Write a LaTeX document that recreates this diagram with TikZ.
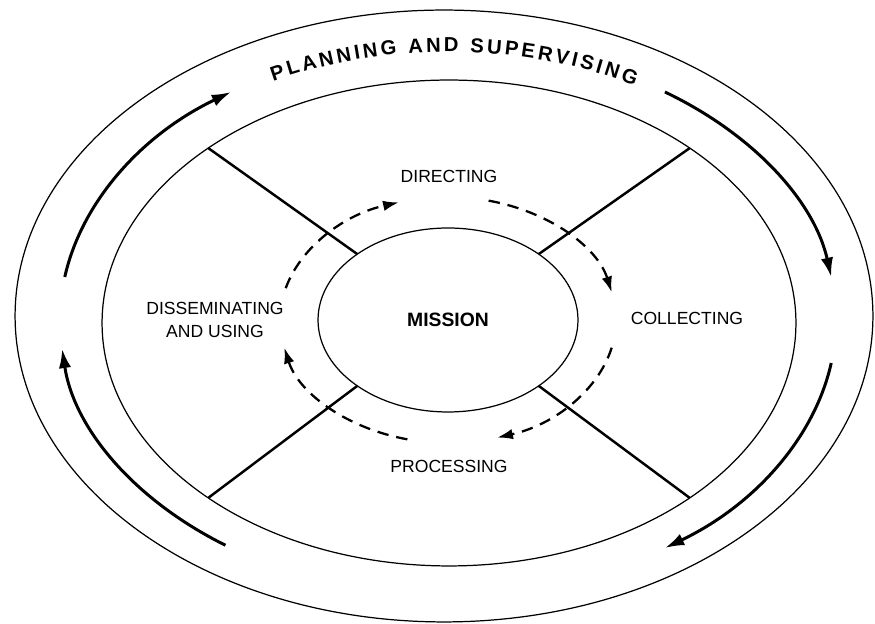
\documentclass[tikz,border=0pt]{standalone}
\usepackage{fontspec}
\setmainfont{Liberation Sans}
\usetikzlibrary{shapes.geometric,arrows.meta,decorations.text}

\tikzset{
  oval/.style={draw, ellipse, line width=0.7pt, inner sep=0pt, outer sep=0pt},
  spoke/.style={line width=1.4pt},
  outerflow/.style={line width=1.7pt, -{Latex[length=11pt,width=7pt]}},
  innerflow/.style={line width=1.3pt, dash pattern=on 6.5pt off 4.5pt, -{Latex[length=9pt,width=6pt]}},
  phase/.style={font=\fontsize{10}{13.5}\selectfont, align=center}
}

\begin{document}
\begin{tikzpicture}[x=0.02cm, y=0.02cm]
	\useasboundingbox (0,0) rectangle (875,624);
	
	\node[oval, minimum width=17.16cm, minimum height=12.24cm] (outer) at (444,308) {};
	\node[oval, minimum width=13.88cm, minimum height=9.72cm] (inner) at (449,301) {};
	\node[oval, minimum width=5.2cm, minimum height=3.68cm, font=\bfseries\fontsize{11}{13}\selectfont] (mission) at (448,304) {MISSION};
	
	% spokes
	\draw[spoke] (mission.144) -- (inner.144);
	\draw[spoke] (mission.36) -- (inner.36);
	\draw[spoke] (mission.216) -- (inner.216);
	\draw[spoke] (mission.-36) -- (inner.-36);
	
	% planning and supervising cycle
	\draw[outerflow] ([shift={(171:388 and 275)}]mission.center) arc[start angle=171, end angle=124, x radius=388, y radius=275];
	\draw[outerflow] ([shift={(56:388 and 275)}]mission.center) arc[start angle=56, end angle=9, x radius=388, y radius=275];
	\draw[outerflow] ([shift={(-9:388 and 275)}]mission.center) arc[start angle=-9, end angle=-56, x radius=388, y radius=275];
	\draw[outerflow] ([shift={(-125:388 and 275)}]mission.center) arc[start angle=-125, end angle=-174, x radius=388, y radius=275];
	
	% inner cycle
	\draw[innerflow] ([shift={(165:168 and 123)}]mission.center) arc[start angle=165, end angle=107, x radius=168, y radius=123];
	\draw[innerflow] ([shift={(76:168 and 123)}]mission.center) arc[start angle=76, end angle=13, x radius=168, y radius=123];
	\draw[innerflow] ([shift={(-13:168 and 123)}]mission.center) arc[start angle=-13, end angle=-73, x radius=168, y radius=123];
	\draw[innerflow] ([shift={(-104:168 and 123)}]mission.center) arc[start angle=-104, end angle=-167, x radius=168, y radius=123];
	
	\path[decorate, decoration={text along path, text align=fit to path,
		text={|\bfseries\fontsize{11.5}{14}\selectfont|PLANNING AND SUPERVISING}}]
		([shift={(117:385 and 268)}]mission.center) arc[start angle=117, end angle=61, x radius=385, y radius=268];
	
	\node[phase] (directing) at (449,448) {DIRECTING};
	\node[phase] (collecting) at (687,306) {COLLECTING};
	\node[phase] (processing) at (449,158) {PROCESSING};
	\node[phase] (disseminating) at (215,304) {DISSEMINATING\\AND USING};
\end{tikzpicture}
\end{document}
